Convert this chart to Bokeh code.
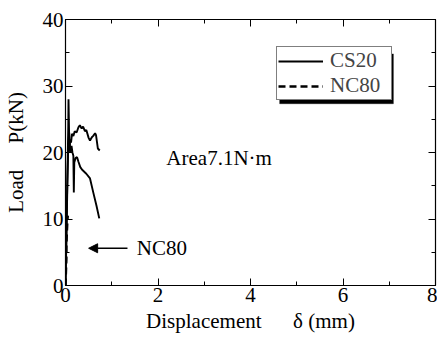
from bokeh.plotting import figure
from bokeh.models import (Range1d, LinearAxis, SingleIntervalTicker, Legend, LegendItem,
                          Arrow, NormalHead, Label, BoxAnnotation, CustomJSTickFormatter)
from bokeh.embed import file_html
from bokeh.resources import INLINE

# CS20 specimen 1 (upper branch)
cs20_a_x = [0, 0.02, 0.04, 0.05, 0.06, 0.065, 0.08, 0.09, 0.1, 0.12, 0.14, 0.17, 0.2, 0.24, 0.28,
            0.31, 0.35, 0.38, 0.42, 0.45, 0.5, 0.53, 0.57, 0.6, 0.64, 0.66, 0.7, 0.74]
cs20_a_y = [0, 8, 16, 20, 24, 28, 22, 20.5, 22, 21.5, 22.8, 22.5, 23.2, 23, 23.8,
            24.1, 23.6, 23.9, 23.2, 23.4, 22.2, 21.8, 22.3, 22.5, 22.9, 22.6, 20.6, 20.3]
# CS20 specimen 2 (lower branch)
cs20_b_x = [0, 0.02, 0.04, 0.06, 0.08, 0.1, 0.13, 0.15, 0.17, 0.18, 0.19, 0.22, 0.25, 0.28,
            0.32, 0.36, 0.45, 0.53, 0.6, 0.67, 0.73]
cs20_b_y = [0, 7, 15, 21, 23, 20, 21, 20, 19.5, 14, 18.5, 19.2, 19.3, 18.6,
            17.8, 17.4, 16.8, 16.1, 14.0, 12.0, 10.1]
# NC80
nc80_x = [0, 0.01, 0.02, 0.02, 0.03, 0.04, 0.05]
nc80_y = [0, 2, 4, 6, 8, 9.5, 10.5]

FONT = "'Liberation Serif', serif"
FS = "21px"
NB = "\u00a0"

p = figure(width=437, height=338, output_backend="svg", toolbar_location=None,
           x_range=Range1d(0, 8), y_range=Range1d(0, 40),
           min_border_left=64, min_border_right=2, min_border_top=19, min_border_bottom=53)
p.grid.visible = False
p.outline_line_color = "black"
p.outline_line_width = 1.2
p.background_fill_color = "white"
p.border_fill_color = "white"

for ax in p.xaxis:
    ax.ticker = SingleIntervalTicker(interval=2, num_minor_ticks=2)
for ax in p.yaxis:
    ax.ticker = SingleIntervalTicker(interval=10, num_minor_ticks=2)

def style(ax):
    ax.major_tick_in = 7
    ax.major_tick_out = 0
    ax.minor_tick_in = 4
    ax.minor_tick_out = 0
    ax.axis_line_color = "black"
    ax.major_tick_line_color = "black"
    ax.minor_tick_line_color = "black"
    ax.major_label_text_font = FONT
    ax.major_label_text_font_size = FS
    ax.major_label_text_color = "black"
    ax.axis_label_text_font = FONT
    ax.axis_label_text_font_size = FS
    ax.axis_label_text_font_style = "normal"
    ax.axis_label_text_color = "black"

style(p.xaxis[0]); style(p.yaxis[0])
p.xaxis[0].major_label_standoff = 2
p.yaxis[0].major_label_standoff = 2
p.xaxis[0].axis_label = "Displacement" + NB * 6 + "δ (mm)"
p.yaxis[0].axis_label = "Load" + NB * 5 + "P(kN)"
p.xaxis[0].axis_label_standoff = 4
p.yaxis[0].axis_label_standoff = 12

blank = CustomJSTickFormatter(code="return ''")
top = LinearAxis(ticker=SingleIntervalTicker(interval=2, num_minor_ticks=2), formatter=blank)
right = LinearAxis(ticker=SingleIntervalTicker(interval=10, num_minor_ticks=2), formatter=blank)
style(top); style(right)
top.major_label_standoff = 0
right.major_label_standoff = 0
p.add_layout(top, "above")
p.add_layout(right, "right")

# legend shadow
p.add_layout(BoxAnnotation(left=4.63, right=7.09, bottom=27.33, top=34.83,
                           fill_color="black", fill_alpha=1, line_color="black", level="overlay"))

r1 = p.line(cs20_a_x, cs20_a_y, line_color="black", line_width=1.9)
r2 = p.line(cs20_b_x, cs20_b_y, line_color="black", line_width=1.9)
r3 = p.line(nc80_x, nc80_y, line_color="black", line_width=2.4, line_dash="7 4")

legend = Legend(items=[LegendItem(label="CS20", renderers=[r1]),
                       LegendItem(label="NC80", renderers=[r3])],
                location=(211, 185), label_text_font=FONT, label_text_font_size=FS,
                glyph_width=45, glyph_height=20, label_standoff=7, spacing=0, padding=1,
                margin=0, border_line_color="black", border_line_width=1,
                background_fill_color="white", background_fill_alpha=1,
                label_height=20, label_width=60)
p.add_layout(legend)

p.add_layout(Label(x=2.18, y=19.1, text="Area7.1N·m", text_font=FONT, text_font_size=FS,
                   text_baseline="middle", text_color="black"))
p.add_layout(Label(x=1.54, y=5.6, text="NC80", text_font=FONT, text_font_size=FS,
                   text_baseline="middle", text_color="black"))
p.add_layout(Arrow(x_start=1.34, y_start=5.6, x_end=0.5, y_end=5.6, line_width=1.5,
                   end=NormalHead(size=9, fill_color="black", line_color="black")))

open("out.html", "w").write(file_html(p, INLINE))
